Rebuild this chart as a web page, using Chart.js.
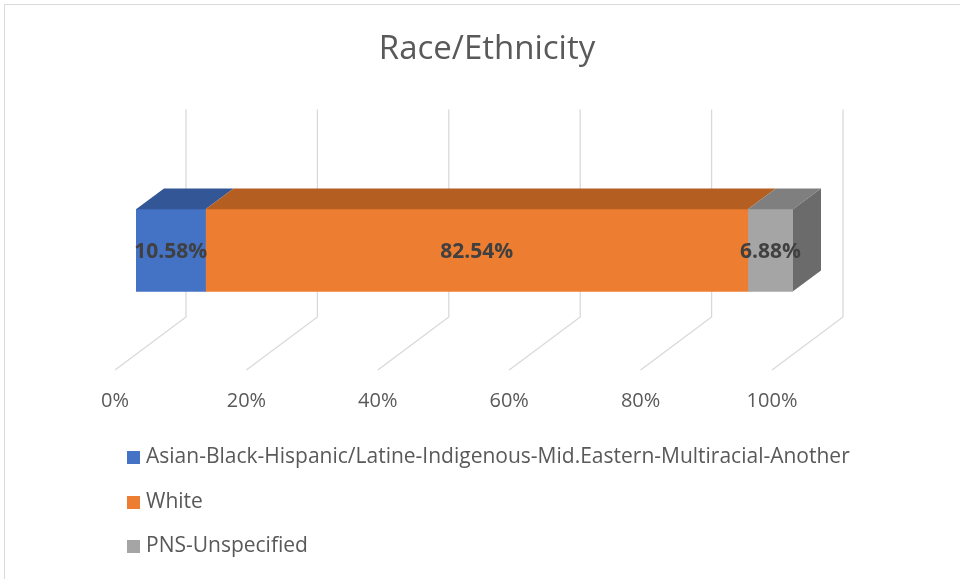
<!DOCTYPE html>
<html>
<head>
<meta charset="utf-8">
<title>Race/Ethnicity</title>
<script src="https://cdn.jsdelivr.net/npm/chart.js@4.4.1/dist/chart.umd.min.js"></script>
<style>
  html, body { margin: 0; padding: 0; background: #fff; }
  #wrap { position: relative; width: 960px; height: 579px; }
</style>
</head>
<body>
<div id="wrap"><canvas id="raceChart" width="960" height="579"></canvas></div>
<script>
// Data
const categories = [''];
const seriesNames = [
    'Asian-Black-Hispanic/Latine-Indigenous-Mid.Eastern-Multiracial-Another',
    'White',
    'PNS-Unspecified'
];
const seriesValues = [10.58, 82.54, 6.88];
const tickValues = [0, 20, 40, 60, 80, 100];

// Face colours (front, top, side)
const frontColors = ['#4472C4', '#ED7D31', '#A5A5A5'];
const topColors = ['#325696', '#B45E22', '#7F7F7F'];
const sideColors = ['#2A4A84', '#9C5020', '#6B6B6B'];

const FONT = '"Open Sans", Lato, sans-serif';
const textColor = '#595959';
const gridColor = '#D9D9D9';

// Oblique depth of the floor, and where the bar sits inside it
const depth = { dx: 71, dy: -53 };
const barFront = 21 / 71;
const barDepth = 28 / 71;

// Draws the back wall, the floor lines, the 3D faces, the value labels and the legend
const bar3d = {
    id: 'bar3d',
    beforeDraw(chart) {
        const ctx = chart.ctx;
        ctx.save();
        ctx.strokeStyle = gridColor;
        ctx.lineWidth = 1;
        ctx.strokeRect(4.5, 4.5, 1000, 1000);
        ctx.restore();
    },
    beforeDatasetsDraw(chart) {
        const { ctx, chartArea, scales: { x } } = chart;
        const backDx = depth.dx * (1 - barFront);
        const frontDx = depth.dx * barFront;
        const floorBack = chartArea.bottom + depth.dy;
        ctx.save();
        ctx.strokeStyle = gridColor;
        ctx.lineWidth = 1.3;
        tickValues.forEach(v => {
            const px = x.getPixelForValue(v);
            ctx.beginPath();
            ctx.moveTo(px + backDx, chartArea.top - 21);
            ctx.lineTo(px + backDx, floorBack);
            ctx.lineTo(px - frontDx, chartArea.bottom);
            ctx.stroke();
        });
        ctx.restore();
    },
    afterDatasetsDraw(chart) {
        const ctx = chart.ctx;
        const ox = depth.dx * barDepth;
        const oy = depth.dy * barDepth;
        const last = chart.data.datasets.length - 1;
        ctx.save();
        chart.data.datasets.forEach((ds, i) => {
            chart.getDatasetMeta(i).data.forEach(bar => {
                const { x, base, y, height } = bar.getProps(['x', 'base', 'y', 'height'], true);
                const top = y - height / 2;
                const bottom = y + height / 2;

                // top face
                ctx.fillStyle = topColors[i];
                ctx.beginPath();
                ctx.moveTo(base, top);
                ctx.lineTo(x, top);
                ctx.lineTo(x + ox, top + oy);
                ctx.lineTo(base + ox, top + oy);
                ctx.closePath();
                ctx.fill();

                // right end face
                if (i === last) {
                    ctx.fillStyle = sideColors[i];
                    ctx.beginPath();
                    ctx.moveTo(x, top);
                    ctx.lineTo(x + ox, top + oy);
                    ctx.lineTo(x + ox, bottom + oy);
                    ctx.lineTo(x, bottom);
                    ctx.closePath();
                    ctx.fill();
                }

                // value label
                ctx.fillStyle = '#404040';
                ctx.font = 'bold 21px ' + FONT;
                ctx.textAlign = 'center';
                ctx.textBaseline = 'middle';
                ctx.fillText(ds.data[0].toFixed(2) + '%', (x + base) / 2, y + 2);
            });
        });
        ctx.restore();
    },
    afterDraw(chart) {
        const ctx = chart.ctx;
        const rowY = [457, 502, 546];
        ctx.save();
        ctx.font = '21px ' + FONT;
        ctx.textAlign = 'left';
        ctx.textBaseline = 'middle';
        chart.data.datasets.forEach((ds, i) => {
            ctx.fillStyle = ds.backgroundColor;
            ctx.fillRect(127, rowY[i] - 6, 13, 13);
            ctx.fillStyle = textColor;
            ctx.fillText(ds.label, 146, rowY[i]);
        });
        ctx.restore();
    }
};

const ctx = document.getElementById('raceChart').getContext('2d');
const raceChart = new Chart(ctx, {
    type: 'bar',
    data: {
        labels: categories,
        datasets: seriesNames.map((name, i) => ({
            label: name,
            data: [seriesValues[i]],
            backgroundColor: frontColors[i],
            borderWidth: 0,
            barThickness: 82
        }))
    },
    options: {
        indexAxis: 'y',
        responsive: false,
        animation: false,
        layout: {
            padding: { left: 14, right: 0, top: 0, bottom: 147 }
        },
        scales: {
            x: {
                type: 'linear',
                stacked: true,
                min: 0,
                max: 100,
                grid: { display: false, drawTicks: false },
                border: { display: false },
                ticks: {
                    stepSize: 20,
                    autoSkip: false,
                    maxRotation: 0,
                    labelOffset: -21,
                    padding: 19,
                    color: textColor,
                    font: { family: FONT, size: 20 },
                    callback: v => v + '%'
                }
            },
            y: {
                stacked: true,
                grid: { display: false, drawTicks: false },
                border: { display: false },
                ticks: { display: false },
                afterFit(scale) { scale.width = 122; }
            },
            yRight: {
                type: 'category',
                position: 'right',
                grid: { display: false, drawTicks: false },
                border: { display: false },
                ticks: { display: false },
                afterFit(scale) { scale.width = 167; }
            }
        },
        plugins: {
            legend: { display: false },
            tooltip: { enabled: false },
            title: {
                display: true,
                text: 'Race/Ethnicity',
                color: textColor,
                font: { family: FONT, size: 33, weight: 'normal' },
                padding: { top: 30, bottom: 61 }
            }
        }
    },
    plugins: [bar3d]
});
</script>
</body>
</html>
